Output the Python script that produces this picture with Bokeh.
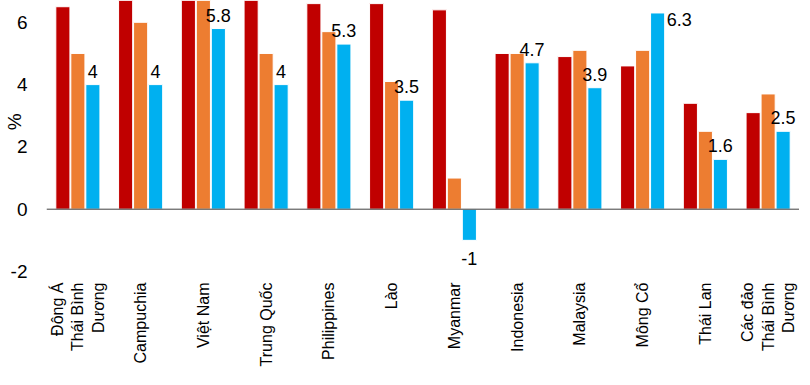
import math
from bokeh.plotting import figure
from bokeh.models import ColumnDataSource, FactorRange, Range1d, FixedTicker, Span, LabelSet
from bokeh.transform import dodge
from bokeh.core.properties import value
from bokeh.embed import file_html
from bokeh.resources import INLINE

categories = ["Đông Á\nThái Bình\nDương", "Campuchia", "Việt Nam", "Trung Quốc", "Philippines",
              "Lào", "Myanmar", "Indonesia", "Malaysia", "Mông Cổ", "Thái Lan",
              "Các đảo\nThái Bình\nDương"]
series_red = [6.5, 7.0, 7.0, 6.8, 6.6, 6.6, 6.4, 5.0, 4.9, 4.6, 3.4, 3.1]
series_orange = [5.0, 6.0, 6.8, 5.0, 5.7, 4.1, 1.0, 5.0, 5.1, 5.1, 2.5, 3.7]
series_blue = [4, 4, 5.8, 4, 5.3, 3.5, -1, 4.7, 3.9, 6.3, 1.6, 2.5]
blue_labels = ["4", "4", "5.8", "4", "5.3", "3.5", "-1", "4.7", "3.9", "6.3", "1.6", "2.5"]
y_ticks = [-2, 0, 2, 4, 6]
y_tick_labels = {-2: "-2", 0: "0", 2: "2", 4: "4", 6: "6"}
y_title = "%"

RED, ORANGE, BLUE = "#C00000", "#ED7D31", "#00B0F0"
FONT = "Liberation Sans"
Y_TOP = 6.7

src = ColumnDataSource(dict(cat=categories, red=series_red, orange=series_orange, blue=series_blue))

p = figure(frame_width=753, height=369, x_range=FactorRange(*categories, range_padding=0),
           y_range=Range1d(-2, Y_TOP), output_backend="svg", toolbar_location=None,
           min_border_left=0, min_border_right=0, min_border_top=0, min_border_bottom=0)
p.outline_line_color = None
p.xgrid.visible = False
p.ygrid.visible = False

bw = 0.225
off = 0.239
p.vbar(x=dodge("cat", -off, range=p.x_range), top="red", bottom=0, width=bw, source=src,
       fill_color=RED, line_color="white", line_width=1)
p.vbar(x=dodge("cat", 0, range=p.x_range), top="orange", bottom=0, width=bw, source=src,
       fill_color=ORANGE, line_color="white", line_width=1)
p.vbar(x=dodge("cat", off, range=p.x_range), top="blue", bottom=0, width=bw, source=src,
       fill_color=BLUE, line_color="white", line_width=1)

p.add_layout(Span(location=0, dimension="width", line_color="#404040", line_width=1))

# value labels of the blue series: above positive bars, below negative ones,
# and beside the bar when there is no room above it
above = [i for i, v in enumerate(series_blue) if 0 <= v < 6.0]
beside = [i for i, v in enumerate(series_blue) if v >= 6.0]
below = [i for i, v in enumerate(series_blue) if v < 0]

def sub(idx):
    return ColumnDataSource(dict(cat=[categories[i] for i in idx], y=[series_blue[i] for i in idx],
                                 t=[blue_labels[i] for i in idx]))

common = dict(text_font=value(FONT), text_font_size="18px", text_color="black")
p.add_layout(LabelSet(x=dodge("cat", off, range=p.x_range), y="y", text="t", source=sub(above),
                      text_align="center", text_baseline="bottom", y_offset=7, **common))
p.add_layout(LabelSet(x=dodge("cat", off + bw / 2, range=p.x_range), y="y", text="t", source=sub(beside),
                      text_align="left", text_baseline="top", x_offset=2, y_offset=0, **common))
p.add_layout(LabelSet(x=dodge("cat", off, range=p.x_range), y="y", text="t", source=sub(below),
                      text_align="center", text_baseline="top", y_offset=-12, **common))

xa = p.xaxis[0]
xa.major_label_orientation = math.pi / 2
xa.major_label_text_font = FONT
xa.major_label_text_font_size = "16px"
xa.major_label_text_color = "black"
xa.axis_line_color = None
xa.major_tick_line_color = None
xa.minor_tick_line_color = None
xa.major_label_standoff = 5

ya = p.yaxis[0]
ya.ticker = FixedTicker(ticks=y_ticks)
ya.major_label_overrides = y_tick_labels
ya.major_label_text_font = FONT
ya.major_label_text_font_size = "19px"
ya.major_label_text_color = "black"
ya.axis_line_color = None
ya.major_tick_line_color = None
ya.minor_tick_line_color = None
ya.major_label_standoff = 13
# the title sits over the tick-label column, a little above the middle, as in the reference
ya.axis_label = "\u2003\u2002" + y_title
ya.axis_label_standoff = -17
ya.axis_label_text_font = FONT
ya.axis_label_text_font_size = "19px"
ya.axis_label_text_font_style = "normal"
ya.axis_label_text_color = "black"

open("out.html", "w").write(file_html(p, INLINE))
